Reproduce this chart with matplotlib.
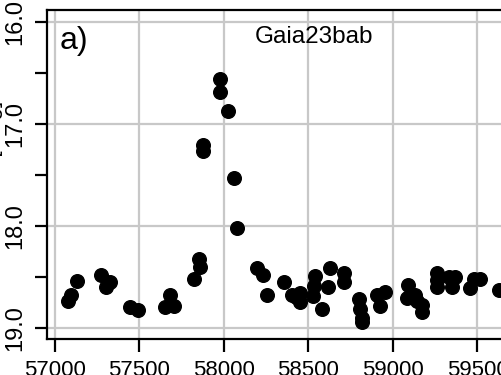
import numpy as np
import matplotlib.pyplot as plt
from matplotlib.ticker import MultipleLocator

plt.rcParams['font.family'] = ['Liberation Sans', 'DejaVu Sans']

# light curve (MJD, G mag)
mjd = [57075, 57095, 57128, 57272, 57325, 57302, 57444, 57491, 57651, 57680,
       57704, 57822, 57858, 57852, 57877, 57877, 57976, 57976, 58025, 58059,
       58076, 58193, 58231, 58253, 58355, 58401, 58426, 58450, 58450, 58538,
       58533, 58527, 58578, 58617, 58627, 58712, 58712, 58800, 58805, 58815,
       58819, 58908, 58923, 58953, 59090, 59081, 59130, 59140, 59170, 59170,
       59263, 59259, 59261, 59331, 59347, 59367, 59456, 59479, 59515, 59627]
mag = [18.74, 18.68, 18.54, 18.48, 18.55, 18.60, 18.79, 18.82, 18.79, 18.68,
       18.78, 18.52, 18.40, 18.32, 17.21, 17.26, 16.56, 16.69, 16.87, 17.53,
       18.02, 18.41, 18.48, 18.68, 18.55, 18.68, 18.70, 18.75, 18.66, 18.49,
       18.59, 18.69, 18.81, 18.60, 18.41, 18.46, 18.55, 18.72, 18.81, 18.90,
       18.94, 18.68, 18.78, 18.65, 18.58, 18.71, 18.68, 18.74, 18.77, 18.84,
       18.46, 18.60, 18.53, 18.50, 18.60, 18.50, 18.61, 18.52, 18.52, 18.63]

xticks = [57000, 57500, 58000, 58500, 59000, 59500]
yticks = [16.0, 17.0, 18.0, 19.0]

fig = plt.figure(figsize=(5.02, 3.75), dpi=100)
W, H = 502, 375
ax = fig.add_axes([47/W, 1-339/H, (540-47)/W, (339-10)/H])

ax.plot(mjd, mag, 'o', color='black', ms=9.8, zorder=3)

ax.set_xlim(56952.7, 59870)
ax.set_ylim(19.108, 15.882)
ax.set_xticks(xticks)
ax.set_xticklabels([str(t) for t in xticks], fontsize=16)
ax.set_yticks(yticks)
ax.set_yticklabels(['%.1f' % t for t in yticks], fontsize=17, rotation=90,
                   va='center', family=['Liberation Sans Narrow', 'Liberation Sans'])
ax.yaxis.set_minor_locator(MultipleLocator(0.5))

ax.grid(True, color='#c8c8c8', lw=1.6, zorder=0)
for s in ax.spines.values():
    s.set_linewidth(1.6)
ax.tick_params(which='both', direction='out', length=9, width=1.6, pad=6)

fig.text(60/W, 1-41/H, 'a)', fontsize=23, va='center', ha='left')
fig.text(314/W, 1-37/H, 'Gaia23bab', fontsize=17.5, va='center', ha='center')
fig.text(-7/W, 1-140/H, 'G [mag]', fontsize=16, rotation=90, va='center', ha='center')

fig.savefig('out.png', dpi=100)
